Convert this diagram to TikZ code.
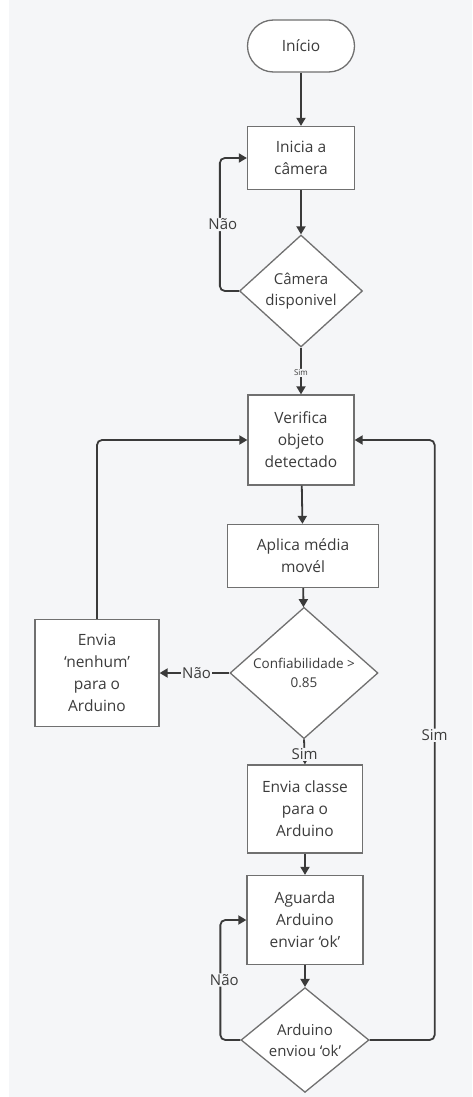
\documentclass[tikz,border=0pt]{standalone}
\usepackage{fontspec}
\setmainfont{Open Sans}
\usetikzlibrary{shapes.geometric,arrows.meta}
\definecolor{bgc}{HTML}{F5F6F8}
\definecolor{linec}{HTML}{3A3A3A}
\definecolor{boxc}{HTML}{707070}
\definecolor{txtc}{HTML}{3C3C3C}
\tikzset{
  procbox/.style={draw=boxc, line width=1.3pt, fill=white, inner sep=0pt, align=center,
    text=txtc, font=\fontsize{15.5}{22}\selectfont},
  decis/.style={diamond, draw=boxc, line width=1.3pt, fill=white, inner sep=0pt, align=center,
    text=txtc, font=\fontsize{15}{21}\selectfont},
  conn/.style={draw=linec, line width=1.8pt, -{Triangle[length=8pt,width=9pt]}, rounded corners=5pt},
  lbl/.style={fill=bgc, inner sep=1pt, text=txtc, font=\fontsize{15}{18}\selectfont},
}
\begin{document}
\begin{tikzpicture}[x=1pt,y=-1pt]
\fill[bgc] (0,0) rectangle (472,1097);
\fill[white] (0,0) rectangle (9,1097);
\useasboundingbox (0,0) rectangle (472,1097);

\node[procbox, rounded corners=26pt, minimum width=107pt, minimum height=52pt] (start) at (301,46) {Início};
\node[procbox, minimum width=107pt, minimum height=63pt] (cam) at (301,158) {Inicia a\\câmera};
\node[decis, minimum width=123pt, minimum height=112pt] (camd) at (301,291) {Câmera\\disponivel};
\node[procbox, minimum width=106pt, minimum height=90pt] (verif) at (301,440) {Verifica\\objeto\\detectado};
\node[procbox, minimum width=151pt, minimum height=63pt] (aplica) at (303,556) {Aplica média\\movél};
\node[decis, font=\fontsize{13.5}{19}\selectfont, minimum width=148pt, minimum height=93pt] (conf) at (304,673) {Confiabilidade >\\0.85};
\node[procbox, minimum width=124pt, minimum height=107pt] (nenhum) at (97,673) {Envia\\‘nenhum’\\para o\\Arduino};
\node[procbox, minimum width=115pt, minimum height=88pt] (classe) at (305,809) {Envia classe\\para o\\Arduino};
\node[procbox, minimum width=116pt, minimum height=89pt] (aguarda) at (305,920) {Aguarda\\Arduino\\enviar ‘ok’};
\node[decis, minimum width=128pt, minimum height=104pt] (okd) at (305,1040) {Arduino\\enviou ‘ok’};

\draw[conn] (start) -- (cam);
\draw[conn] (cam) -- (camd);
\draw[conn] (camd.west) -- ++(-19,0) |- node[lbl, pos=0.25, xshift=3pt]{Não} (cam.west);
\draw[conn] (camd.south) -- node[lbl, pos=0.54, font=\fontsize{8}{10}\selectfont]{Sim} (verif.north);
\draw[conn] (verif) -- (aplica);
\draw[conn] (aplica) -- (conf);
\draw[conn] (conf.west) -- node[lbl, pos=0.47]{Não} (nenhum.east);
\draw[conn] (nenhum.north) |- (verif.west);
\draw[conn] (conf.south) -- node[lbl, pos=0.6]{Sim} (classe.north);
\draw[conn] (classe) -- (aguarda);
\draw[conn] (aguarda) -- (okd);
\draw[conn] (okd.west) -- ++(-20,0) |- node[lbl, pos=0.25, xshift=4pt]{Não} (aguarda.west);
\draw[conn] (okd.east) -- ++(65,0) |- node[lbl, pos=0.254]{Sim} (verif.east);
\end{tikzpicture}
\end{document}
